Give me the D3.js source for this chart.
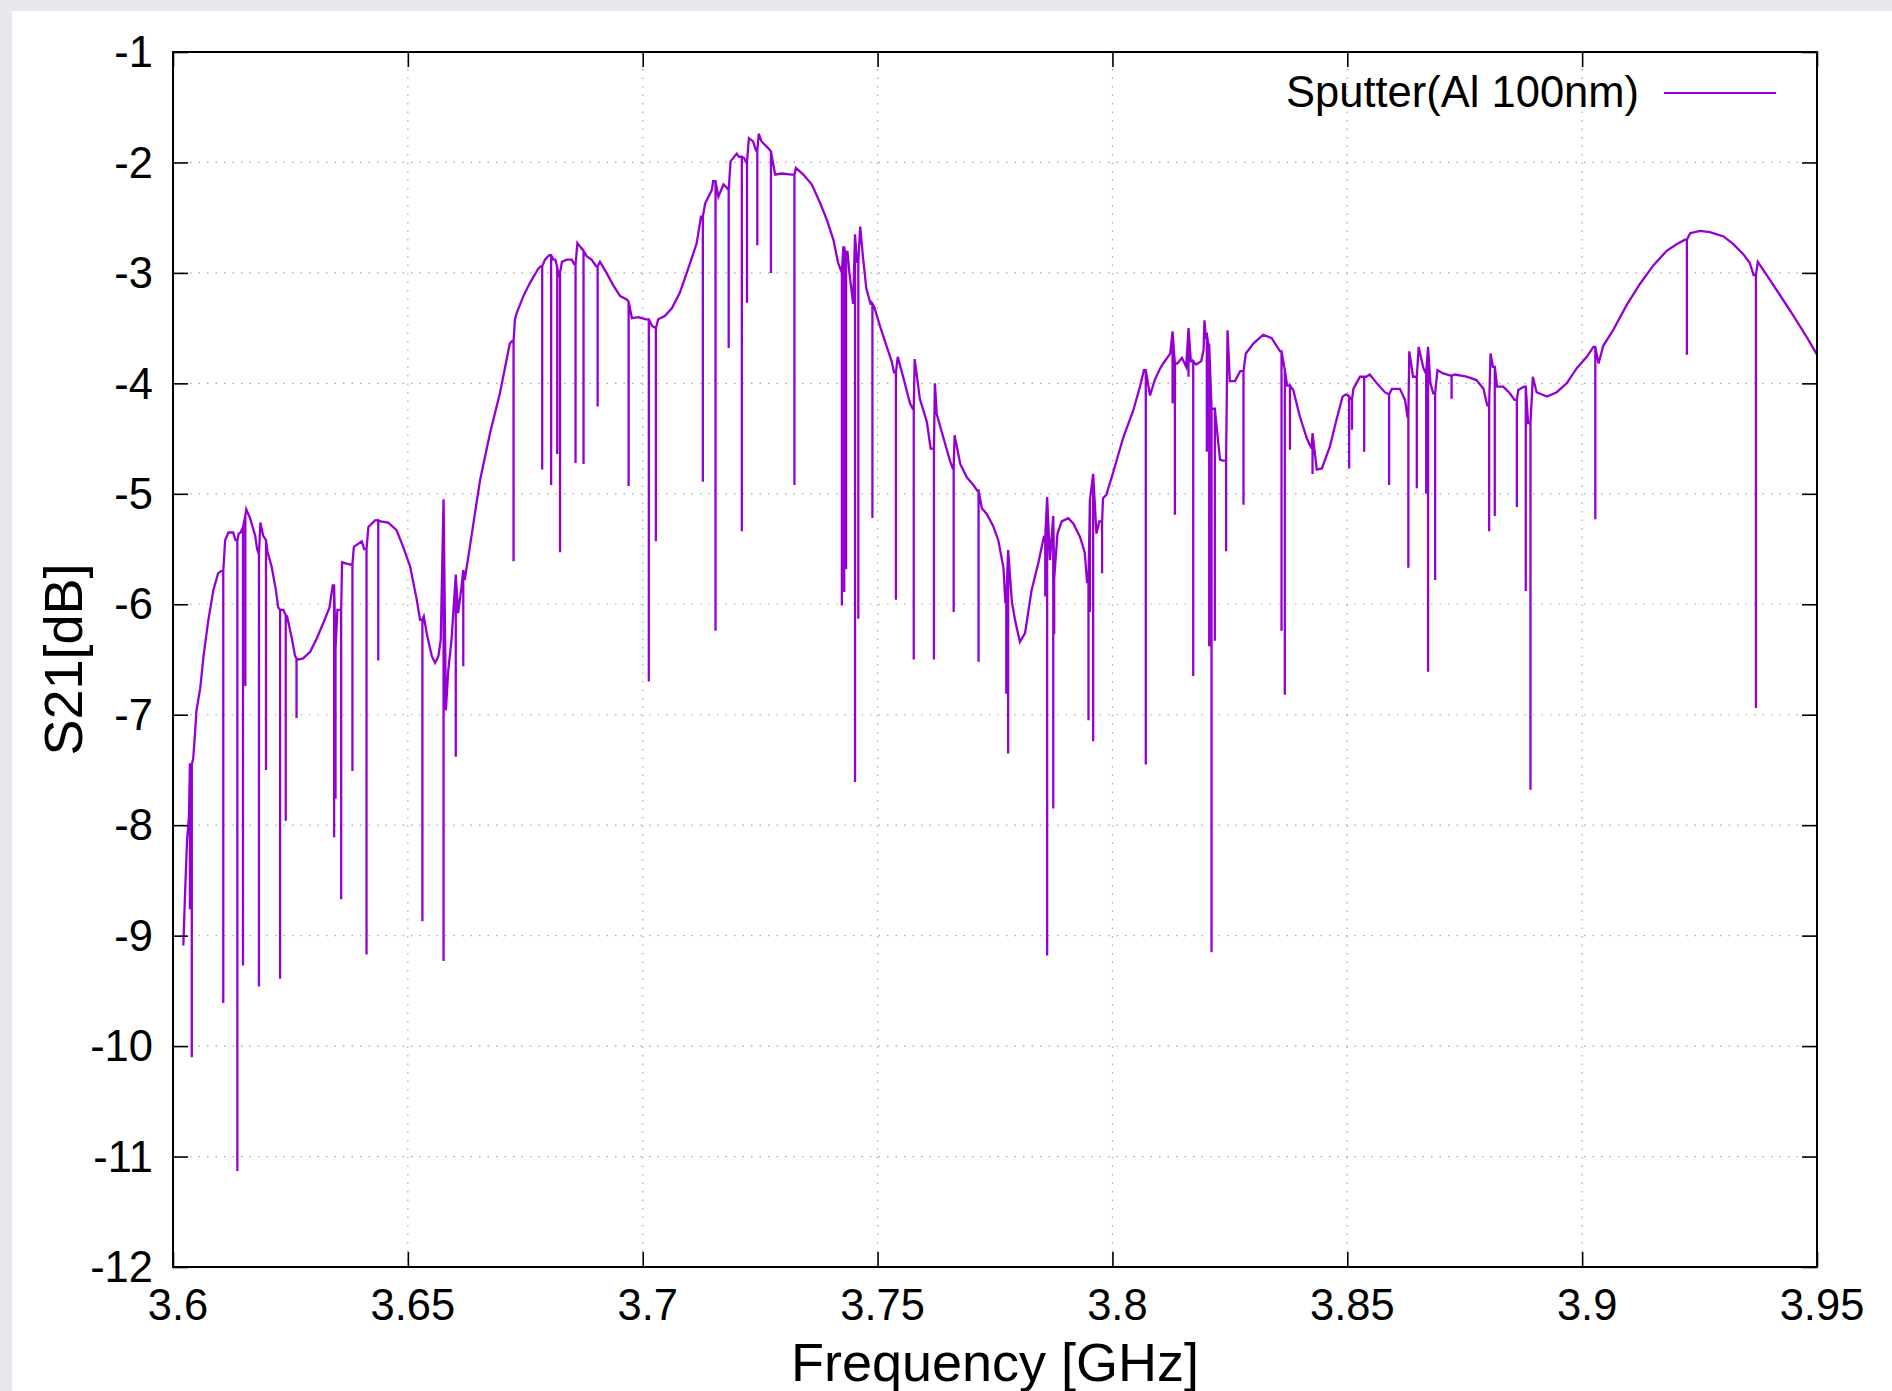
<!DOCTYPE html>
<html>
<head>
<meta charset="utf-8">
<script src="https://cdn.jsdelivr.net/npm/d3@7"></script>
<style>
  html, body { margin: 0; padding: 0; background: #e6e8ec; }
  svg { display: block; }
</style>
</head>
<body>
<div id="canvas"></div>
<script>
const seriesName = "Sputter(Al 100nm)";
const xTicks = [3.6, 3.65, 3.7, 3.75, 3.8, 3.85, 3.9, 3.95];
const xTickLabels = ["3.6", "3.65", "3.7", "3.75", "3.8", "3.85", "3.9", "3.95"];
const yTicks = [-1, -2, -3, -4, -5, -6, -7, -8, -9, -10, -11, -12];

// smooth part of the trace: [GHz, dB]
const envelope = [
  [3.6022,-9.09],[3.6026,-8.58],[3.6030,-8.13],[3.6034,-7.92],
  [3.6043,-7.40],[3.6047,-7.16],[3.6050,-6.96],[3.6058,-6.76],[3.6065,-6.47],[3.6075,-6.15],[3.6086,-5.87],[3.6096,-5.72],[3.6102,-5.70],
  [3.6111,-5.42],[3.6118,-5.35],[3.6128,-5.35],[3.6133,-5.42],
  [3.6140,-5.36],[3.6144,-5.35],
  [3.6156,-5.14],[3.6164,-5.22],[3.6175,-5.38],[3.6179,-5.50],
  [3.6186,-5.26],[3.6192,-5.38],
  [3.6201,-5.52],[3.6210,-5.66],[3.6219,-5.87],[3.6224,-6.03],
  [3.6235,-6.05],
  [3.6243,-6.11],[3.6253,-6.31],[3.6260,-6.47],
  [3.6267,-6.50],[3.6277,-6.49],[3.6292,-6.43],[3.6306,-6.31],[3.6320,-6.17],[3.6333,-6.03],[3.6340,-5.83],
  [3.6350,-6.05],
  [3.6360,-5.62],[3.6377,-5.64],
  [3.6385,-5.48],[3.6402,-5.43],[3.6407,-5.50],
  [3.6416,-5.30],[3.6430,-5.24],
  [3.6442,-5.25],[3.6458,-5.26],[3.6476,-5.33],[3.6490,-5.48],[3.6505,-5.66],[3.6519,-5.96],[3.6526,-6.14],
  [3.6534,-6.11],[3.6540,-6.26],[3.6551,-6.47],[3.6558,-6.53],[3.6565,-6.47],[3.6570,-6.32],
  [3.6581,-6.96],[3.6586,-6.60],[3.6593,-6.32],
  [3.6607,-6.08],[3.6614,-5.85],
  [3.6621,-5.78],[3.6632,-5.48],[3.6643,-5.17],[3.6654,-4.87],[3.6675,-4.45],[3.6696,-4.09],[3.6717,-3.64],[3.6721,-3.62],
  [3.6728,-3.42],[3.6732,-3.36],[3.6746,-3.21],[3.6760,-3.09],[3.6778,-2.96],[3.6783,-2.94],
  [3.6792,-2.88],[3.6801,-2.84],
  [3.6810,-2.88],[3.6814,-2.88],
  [3.6821,-3.02],
  [3.6828,-2.90],[3.6838,-2.88],[3.6849,-2.88],[3.6854,-2.92],
  [3.6861,-2.73],[3.6870,-2.78],
  [3.6881,-2.85],[3.6891,-2.88],[3.6901,-2.94],
  [3.6909,-2.90],[3.6923,-3.00],[3.6937,-3.11],[3.6952,-3.21],[3.6966,-3.24],
  [3.6977,-3.41],[3.6991,-3.40],[3.7007,-3.42],
  [3.7020,-3.48],
  [3.7033,-3.42],[3.7047,-3.39],[3.7062,-3.32],[3.7079,-3.18],[3.7101,-2.91],[3.7115,-2.73],[3.7124,-2.49],
  [3.7133,-2.37],[3.7147,-2.25],[3.7150,-2.17],
  [3.7161,-2.31],[3.7172,-2.20],[3.7177,-2.22],
  [3.7187,-1.99],[3.7200,-1.92],[3.7205,-1.95],
  [3.7216,-1.96],[3.7220,-2.00],
  [3.7226,-1.78],[3.7235,-1.81],[3.7241,-1.89],
  [3.7247,-1.74],[3.7253,-1.81],[3.7267,-1.87],
  [3.7282,-2.11],[3.7296,-2.10],[3.7317,-2.11],
  [3.7326,-2.05],[3.7342,-2.11],[3.7360,-2.20],[3.7378,-2.37],[3.7392,-2.52],[3.7406,-2.70],[3.7416,-2.91],
  [3.7427,-2.77],[3.7431,-2.81],[3.7436,-2.81],[3.7440,-3.00],[3.7448,-3.28],
  [3.7456,-2.90],[3.7463,-2.58],[3.7469,-2.86],[3.7476,-3.14],[3.7485,-3.28],
  [3.7493,-3.31],[3.7505,-3.48],[3.7519,-3.66],[3.7530,-3.80],[3.7535,-3.90],
  [3.7543,-3.76],[3.7555,-3.95],[3.7569,-4.18],[3.7575,-4.23],
  [3.7579,-3.78],[3.7590,-4.14],[3.7605,-4.35],[3.7613,-4.59],
  [3.7622,-4.00],[3.7626,-4.28],[3.7640,-4.49],[3.7654,-4.70],[3.7660,-4.77],
  [3.7664,-4.47],[3.7676,-4.73],[3.7690,-4.85],[3.7704,-4.92],[3.7712,-4.97],
  [3.7722,-5.13],[3.7732,-5.18],[3.7746,-5.29],[3.7757,-5.42],[3.7768,-5.67],[3.7772,-5.98],
  [3.7786,-5.98],[3.7793,-6.15],[3.7803,-6.34],[3.7814,-6.26],[3.7828,-5.87],[3.7842,-5.63],[3.7854,-5.39],
  [3.7867,-5.60],
  [3.7883,-5.36],[3.7892,-5.25],[3.7906,-5.22],[3.7917,-5.27],[3.7931,-5.39],[3.7941,-5.53],[3.7946,-5.80],
  [3.7966,-5.36],[3.7972,-5.25],
  [3.7980,-5.04],[3.7987,-5.01],[3.8002,-4.80],[3.8023,-4.49],[3.8044,-4.25],[3.8058,-4.04],[3.8067,-3.88],
  [3.8080,-4.11],[3.8090,-3.97],[3.8101,-3.87],[3.8108,-3.82],[3.8123,-3.73],
  [3.8138,-3.82],[3.8148,-3.77],[3.8157,-3.85],
  [3.8167,-3.80],
  [3.8178,-3.83],[3.8189,-3.80],[3.8194,-3.70],
  [3.8198,-3.55],
  [3.8204,-3.65],
  [3.8229,-4.69],[3.8235,-4.70],
  [3.8245,-3.52],[3.8250,-3.98],[3.8261,-3.98],[3.8272,-3.89],
  [3.8284,-3.73],[3.8300,-3.64],[3.8321,-3.56],[3.8339,-3.59],[3.8357,-3.71],
  [3.8372,-4.02],
  [3.8385,-4.06],[3.8399,-4.30],[3.8414,-4.50],[3.8424,-4.59],
  [3.8435,-4.78],[3.8446,-4.77],[3.8463,-4.57],[3.8477,-4.33],[3.8490,-4.12],[3.8497,-4.10],
  [3.8513,-4.05],[3.8527,-3.94],[3.8533,-3.94],
  [3.8540,-3.94],[3.8548,-3.92],[3.8563,-4.00],[3.8580,-4.08],
  [3.8595,-4.05],[3.8612,-4.05],[3.8623,-4.15],[3.8628,-4.30],
  [3.8632,-3.71],[3.8640,-3.94],
  [3.8652,-3.67],[3.8662,-3.86],[3.8666,-3.90],
  [3.8677,-4.00],[3.8683,-4.09],
  [3.8692,-3.88],[3.8704,-3.91],[3.8720,-3.93],
  [3.8729,-3.92],[3.8754,-3.94],[3.8775,-3.97],[3.8790,-4.05],[3.8798,-4.20],
  [3.8805,-3.73],[3.8810,-3.85],
  [3.8819,-4.03],[3.8832,-4.03],[3.8846,-4.09],[3.8856,-4.15],
  [3.8864,-4.06],[3.8876,-4.03],
  [3.8885,-4.36],
  [3.8895,-3.94],[3.8903,-4.08],[3.8925,-4.12],[3.8946,-4.08],[3.8967,-4.00],[3.8989,-3.86],[3.9010,-3.76],[3.9024,-3.67],
  [3.9035,-3.82],[3.9045,-3.66],[3.9067,-3.51],[3.9095,-3.29],[3.9123,-3.10],[3.9152,-2.93],[3.9180,-2.80],[3.9201,-2.74],[3.9219,-2.70],
  [3.9230,-2.64],[3.9251,-2.62],[3.9272,-2.63],[3.9301,-2.67],[3.9322,-2.74],[3.9343,-2.83],[3.9357,-2.91],[3.9365,-3.02],
  [3.9374,-2.90],[3.9393,-3.02],[3.9421,-3.20],[3.9450,-3.39],[3.9478,-3.58],[3.9500,-3.74]
];

// narrow resonance dips: [GHz, dB at top, dB at bottom]
const notches = [
  [3.6036,-7.45,-8.76],[3.6040,-7.45,-10.10],
  [3.6107,-5.70,-9.61],[3.6137,-5.42,-11.13],
  [3.6149,-5.30,-9.27],[3.6154,-5.20,-6.74],
  [3.6183,-5.55,-9.46],[3.6198,-5.42,-7.50],
  [3.6228,-6.05,-9.39],[3.6240,-6.10,-7.96],[3.6263,-6.49,-7.03],
  [3.6343,-5.83,-8.11],[3.6346,-6.40,-7.76],[3.6358,-6.05,-8.67],[3.6382,-5.64,-7.51],[3.6412,-5.50,-9.17],[3.6437,-5.24,-6.51],
  [3.6531,-6.14,-8.87],[3.6576,-5.05,-9.23],[3.6602,-5.73,-7.38],[3.6618,-5.69,-6.56],
  [3.6725,-3.62,-5.61],[3.6786,-2.94,-4.78],[3.6805,-2.84,-4.92],[3.6818,-2.95,-4.64],[3.6824,-3.00,-5.53],
  [3.6857,-2.92,-4.72],[3.6874,-2.80,-4.73],[3.6904,-2.94,-4.21],[3.6970,-3.26,-4.93],
  [3.7013,-3.42,-6.70],[3.7028,-3.50,-5.43],
  [3.7128,-2.49,-4.89],[3.7155,-2.17,-6.24],[3.7183,-2.25,-3.68],[3.7211,-1.95,-5.34],[3.7222,-2.00,-3.27],[3.7244,-1.89,-2.75],[3.7273,-1.90,-3.00],[3.7323,-2.11,-4.92],
  [3.7424,-3.00,-6.01],[3.7429,-2.77,-5.89],[3.7433,-2.81,-5.68],[3.7452,-2.65,-7.61],[3.7459,-2.90,-6.13],[3.7489,-3.28,-5.22],
  [3.7539,-3.90,-5.96],[3.7577,-4.23,-6.50],[3.7620,-4.59,-6.50],[3.7662,-4.77,-6.07],[3.7715,-4.97,-6.52],
  [3.7774,-5.98,-6.81],[3.7778,-5.51,-7.35],
  [3.7857,-5.39,-5.93],[3.7861,-5.03,-9.18],[3.7874,-5.20,-7.85],[3.7876,-5.77,-6.27],
  [3.7949,-5.80,-7.05],[3.7952,-5.06,-6.07],[3.7959,-4.82,-7.24],[3.7978,-5.25,-5.72],
  [3.8071,-3.88,-7.45],
  [3.8128,-3.53,-4.18],[3.8133,-3.82,-5.19],[3.8162,-3.50,-3.94],[3.8172,-3.80,-6.65],
  [3.8196,-3.43,-3.60],[3.8201,-3.55,-4.62],[3.8206,-3.65,-6.38],[3.8211,-4.23,-9.15],[3.8218,-4.23,-6.33],
  [3.8242,-4.70,-5.52],[3.8279,-3.89,-5.10],
  [3.8360,-3.71,-6.24],[3.8367,-3.88,-6.82],[3.8378,-4.02,-4.60],[3.8426,-4.45,-4.82],
  [3.8504,-4.12,-4.77],[3.8510,-4.15,-4.42],[3.8536,-3.94,-4.62],[3.8589,-4.10,-4.92],
  [3.8630,-4.30,-5.67],[3.8648,-3.94,-4.95],[3.8668,-3.90,-5.00],[3.8672,-3.67,-6.61],[3.8687,-4.09,-5.78],[3.8722,-3.93,-4.14],
  [3.8802,-4.20,-5.34],[3.8814,-3.85,-5.20],[3.8861,-4.15,-5.12],[3.8880,-4.03,-5.88],[3.8890,-4.36,-7.68],
  [3.9028,-3.67,-5.23],[3.9223,-2.70,-3.74],[3.9370,-3.02,-6.94]
];

const width = 1892;
const height = 1391;
const margin = {top: 52, left: 173, bottom: 124, right: 75};
const iwidth = width - margin.left - margin.right;
const iheight = height - margin.top - margin.bottom;
const purple = "#9400d3";
const font = "'Liberation Sans', Arial, Helvetica, sans-serif";

const svg = d3.select("#canvas").append("svg")
    .attr("width", width)
    .attr("height", height);

svg.append("rect")
    .attr("width", width).attr("height", height)
    .attr("fill", "#e6e8ec");
svg.append("rect")
    .attr("x", 12).attr("y", 11)
    .attr("width", width - 12).attr("height", height - 11)
    .attr("fill", "#ffffff");

const x = d3.scaleLinear().domain([3.6, 3.95]).range([0, iwidth]);
const y = d3.scaleLinear().domain([-12, -1]).range([iheight, 0]);

const g = svg.append("g").attr("transform", `translate(${margin.left}, ${margin.top})`);

g.append("defs").append("clipPath").attr("id", "plotclip")
  .append("rect").attr("width", iwidth).attr("height", iheight);

// grid
g.selectAll("line.hgrid").data(yTicks.slice(1, -1)).enter().append("line")
    .attr("class", "hgrid")
    .attr("x1", 0).attr("x2", iwidth)
    .attr("y1", d => y(d)).attr("y2", d => y(d))
    .attr("stroke", "#a8a8a8").attr("stroke-width", 1.2)
    .attr("stroke-dasharray", "1.5,7");
g.selectAll("line.vgrid").data(xTicks.slice(1, -1)).enter().append("line")
    .attr("class", "vgrid")
    .attr("y1", 0).attr("y2", iheight)
    .attr("x1", d => x(d)).attr("x2", d => x(d))
    .attr("stroke", "#a8a8a8").attr("stroke-width", 1.2)
    .attr("stroke-dasharray", "1.5,7");

// trace
const items = envelope.map(d => ({f: d[0], pts: [[d[0], d[1]]]}))
    .concat(notches.map(d => ({f: d[0], pts: [[d[0], d[1]], [d[0], d[2]], [d[0], d[1]]]})));
items.sort((a, b) => a.f - b.f);
const trace = items.flatMap(d => d.pts);

const line = d3.line().x(d => x(d[0])).y(d => y(d[1]));

g.append("path")
    .datum(trace)
    .attr("clip-path", "url(#plotclip)")
    .attr("fill", "none")
    .attr("stroke", purple)
    .attr("stroke-width", 2.3)
    .attr("stroke-linejoin", "miter")
    .attr("d", line);

// axes: ticks inward on all four sides
const tickLen = 15;
g.append("g").call(d3.axisBottom(x).tickValues(xTicks).tickSize(-tickLen).tickFormat(""))
    .attr("transform", `translate(0, ${iheight})`);
g.append("g").call(d3.axisTop(x).tickValues(xTicks).tickSize(-tickLen).tickFormat(""));
g.append("g").call(d3.axisLeft(y).tickValues(yTicks).tickSize(-tickLen).tickFormat(""));
g.append("g").call(d3.axisRight(y).tickValues(yTicks).tickSize(-tickLen).tickFormat(""))
    .attr("transform", `translate(${iwidth}, 0)`);
g.selectAll(".domain").remove();
g.selectAll(".tick line").attr("stroke", "#000").attr("stroke-width", 1.6);

g.append("rect")
    .attr("width", iwidth).attr("height", iheight)
    .attr("fill", "none").attr("stroke", "#000").attr("stroke-width", 2);

// tick labels
g.selectAll("text.xlab").data(xTicks).enter().append("text")
    .attr("class", "xlab")
    .attr("x", d => x(d) + 5)
    .attr("y", iheight + 53)
    .attr("text-anchor", "middle")
    .style("font-family", font).style("font-size", "43.5px")
    .text((d, i) => xTickLabels[i]);

g.selectAll("text.ylab").data(yTicks).enter().append("text")
    .attr("class", "ylab")
    .attr("x", -20)
    .attr("y", d => y(d))
    .attr("dy", "0.35em")
    .attr("text-anchor", "end")
    .style("font-family", font).style("font-size", "43.5px")
    .text(d => d);

// axis titles
svg.append("text")
    .attr("x", margin.left + iwidth / 2)
    .attr("y", 1381)
    .attr("text-anchor", "middle")
    .style("font-family", font).style("font-size", "54px")
    .text("Frequency [GHz]");

svg.append("text")
    .attr("transform", `translate(82, ${margin.top + iheight / 2}) rotate(-90)`)
    .attr("text-anchor", "middle")
    .style("font-family", font).style("font-size", "54px")
    .text("S21[dB]");

// legend
svg.append("text")
    .attr("x", 1639)
    .attr("y", 107)
    .attr("text-anchor", "end")
    .style("font-family", font).style("font-size", "43.5px")
    .text(seriesName);
svg.append("line")
    .attr("x1", 1664).attr("x2", 1776)
    .attr("y1", 93).attr("y2", 93)
    .attr("stroke", purple).attr("stroke-width", 2);
</script>
</body>
</html>
